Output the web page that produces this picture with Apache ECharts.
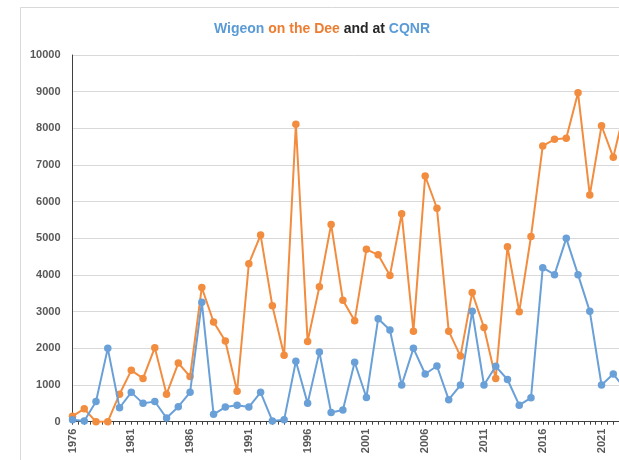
<!DOCTYPE html>
<html>
<head>
<meta charset="utf-8">
<script src="https://cdn.jsdelivr.net/npm/echarts@6/dist/echarts.min.js"></script>
<style>
html,body{margin:0;padding:0;background:#fff;overflow:hidden;width:619px;height:460px;}
#c{width:644px;height:460px;position:absolute;left:0;top:0;}
</style>
</head>
<body>
<div id="c"></div>
<script>
var years = [];
for (var y = 1976; y <= 2023; y++) years.push(y);
var dee = [150,350,0,0,750,1400,1180,2020,750,1600,1230,3660,2720,2200,830,4310,5090,3160,1810,8110,2190,3680,5380,3310,2750,4700,4550,3990,5670,2470,6700,5820,2470,1790,3520,2570,1180,4770,3000,5050,7520,7700,7730,8970,6180,8070,7210,8550];
var cqnr = [50,20,550,2000,380,800,500,550,100,410,800,3260,200,400,450,400,800,20,50,1650,500,1900,250,320,1620,660,2810,2500,1000,2000,1300,1520,600,1000,3010,1000,1510,1150,450,650,4200,4010,5000,4010,3010,1000,1300,900];
var yTicks = [0,1000,2000,3000,4000,5000,6000,7000,8000,9000,10000];
var labelYears = [1976,1981,1986,1991,1996,2001,2006,2011,2016,2021];

function pairs(vals){ return years.map(function(y,i){ return [y, vals[i]]; }); }

var chart = echarts.init(document.getElementById('c'), null, {renderer:'canvas'});
var axisColor = '#595959';
chart.setOption({
  animation:false,
  backgroundColor:'#fff',
  graphic:[{type:'rect', silent:true, z:-1, shape:{x:20.5,y:7.5,width:700,height:600}, style:{fill:'none', stroke:'#d9d9d9', lineWidth:1}}],
  title:{
    left:'center', top:17,
    text:'{b|Wigeon} {o|on the Dee} {k|and at} {b|CQNR}',
    textStyle:{
      fontFamily:'Liberation Sans', fontSize:14, fontWeight:'bold',
      rich:{
        b:{color:'#5B9BD5', fontFamily:'Liberation Sans', fontSize:14, fontWeight:'bold'},
        o:{color:'#ED7D31', fontFamily:'Liberation Sans', fontSize:14, fontWeight:'bold'},
        k:{color:'#262626', fontFamily:'Liberation Sans', fontSize:14, fontWeight:'bold'}
      }
    }
  },
  grid:{left:72.5, top:55, width:564.3, height:366.7, containLabel:false},
  xAxis:{
    type:'value', min:1976, max:2024, interval:0.5,
    axisLine:{show:true, lineStyle:{color:'#404040', width:1}},
    axisTick:{show:true, length:3, lineStyle:{color:'#404040'}},
    splitLine:{show:false},
    axisLabel:{
      rotate:90, margin:7, color:axisColor, fontFamily:'Liberation Sans', fontSize:11, fontWeight:'bold',
      formatter:function(v){ var r = Math.round(v*2)/2; return labelYears.indexOf(r) >= 0 ? String(r) : ''; }
    }
  },
  yAxis:{
    type:'value', min:yTicks[0], max:yTicks[yTicks.length-1], interval:1000,
    axisLine:{show:true, lineStyle:{color:'#404040', width:1}},
    axisTick:{show:false},
    splitLine:{show:true, lineStyle:{color:'#d9d9d9', width:1}},
    axisLabel:{margin:12, color:axisColor, fontFamily:'Liberation Sans', fontSize:11, fontWeight:'bold',
      formatter:function(v){ return String(v); }}
  },
  series:[
    {name:'Dee', type:'line', data:pairs(dee), symbol:'circle', symbolSize:7.5, showSymbol:true,
     lineStyle:{color:'#F28C3F', width:2}, itemStyle:{color:'#F28C3F', borderWidth:0}, z:2},
    {name:'CQNR', type:'line', data:pairs(cqnr), symbol:'circle', symbolSize:7.5, showSymbol:true,
     lineStyle:{color:'#6AA0D8', width:2}, itemStyle:{color:'#6AA0D8', borderWidth:0}, z:3}
  ]
});
</script>
</body>
</html>
